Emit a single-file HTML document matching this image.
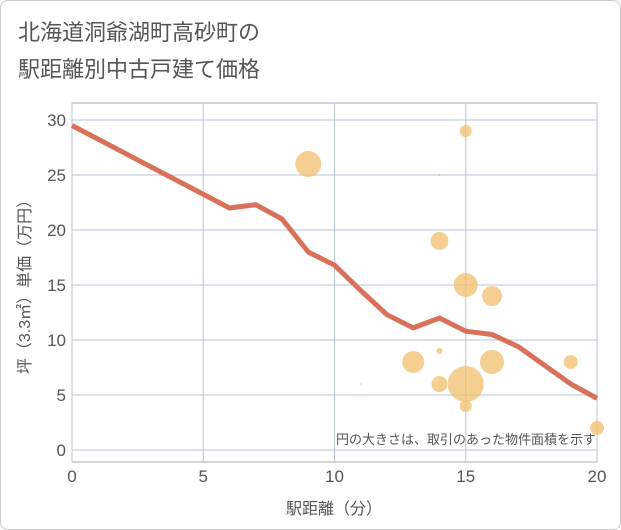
<!DOCTYPE html>
<html><head><meta charset="utf-8"><style>
body{margin:0;background:#fff;font-family:"Liberation Sans","Noto Sans CJK JP",sans-serif;}
#wrap{position:relative;width:619px;height:528px;border:1px solid #ccc;border-radius:8px;overflow:hidden;background:#fff;}
#svg{position:absolute;left:-1px;top:-1px;}
</style></head><body>
<div id="wrap">
<svg width="621" height="530" id="svg">
<text x="18" y="40" font-size="22" fill="#555">北海道洞爺湖町高砂町の</text>
<text x="18" y="77" font-size="22" fill="#555">駅距離別中古戸建て価格</text>
<g id="grid"></g><g id="bubbles"></g><g id="line"></g><g id="axes"></g>
<text x="596" y="444" font-size="13" fill="#555" text-anchor="end">円の大きさは、取引のあった物件面積を示す</text>
<text x="334" y="514" font-size="16" fill="#555" text-anchor="middle">駅距離（分）</text>
<text transform="translate(30,283) rotate(-90)" font-size="16" fill="#555" text-anchor="middle">坪（3.3㎡）単価（万円）</text>
</svg></div>
<script>
const xTicks=[0,5,10,15,20];
const yTicks=[0,5,10,15,20,25,30];
const lineX=[0,6,7,8,9,10,11,12,13,14,15,16,17,18,19,20];
const lineY=[29.5,22,22.3,21,18,16.8,14.5,12.3,11.1,12,10.8,10.5,9.4,7.7,6,4.7];
const bubX=[9,15,14,14,15,16,13,14,16,14,15,15,19,20,11];
const bubY=[26,29,25,19,15,14,8,9,8,6,6,4,8,2,6];
const bubR=[13,6,1,9,12,10,11,3,12,8,18,6,7,7,0.7];
const L=72,R=597,T=103,B=462;
const sx=v=>L+v*(R-L)/20, sy=v=>450-v*11;
const NS='http://www.w3.org/2000/svg';
function mk(t,a,p){const e=document.createElementNS(NS,t);for(const k in a)e.setAttribute(k,a[k]);p.appendChild(e);return e;}
const g=document.getElementById('grid'),ax=document.getElementById('axes');
const fr=mk('rect',{x:L,y:T,width:R-L,height:B-T,fill:'none',stroke:'#aaa'},g);


yTicks.forEach(v=>{const l=mk('line',{x1:L,x2:R,y1:sy(v),y2:sy(v),stroke:'#cfd8e6','stroke-width':1.5},g);


const t=mk('text',{x:L-6,y:sy(v)+6,'font-size':17,fill:'#555','text-anchor':'end'},ax);t.textContent=v;

});
xTicks.forEach(v=>{const l=mk('line',{x1:sx(v),x2:sx(v),y1:T,y2:B,stroke:'#b8c4d6'},g);


const t=mk('text',{x:sx(v),y:482,'font-size':17,fill:'#555','text-anchor':'middle'},ax);t.textContent=v;

});
const bg=document.getElementById('bubbles');
bubX.forEach((x,i)=>{const c=mk('circle',{cx:sx(x),cy:sy(bubY[i]),r:bubR[i],fill:'#f2bf6e','fill-opacity':0.75},bg);

});
const p=mk('polyline',{points:lineX.map((x,i)=>sx(x)+','+sy(lineY[i])).join(' '),fill:'none',stroke:'#d9705a','stroke-width':5,'stroke-linejoin':'round'},document.getElementById('line'));


</script></body></html>
